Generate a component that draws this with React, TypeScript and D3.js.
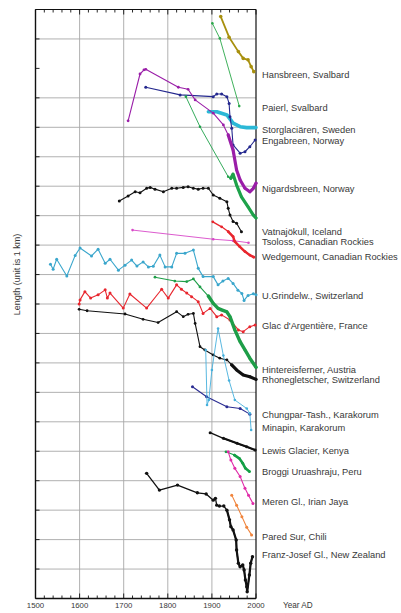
import React from 'react';
import * as d3 from 'd3';

type Pt = [number, number]; // [year AD, length in km units]

// ---- glacier length records (stacked, 1 unit = 1 km) ----
const hansbreen: Pt[] = [[1920, 19.76], [1939, 19.06], [1960, 18.57], [1971, 18.34], [1982, 18.29], [1989, 18.06], [1995, 17.89]];
const paierl: Pt[] = [[1901, 19.53], [1918, 19.02], [1962, 16.72]];
const storglaciaren: Pt[] = [[1892, 16.53], [1911, 16.53], [1934, 16.42], [1948, 16.14], [1964, 16.02], [1979, 15.99], [2000, 15.99]];
const engabreen: Pt[] = [[1750, 17.36], [1828, 17.1], [1903, 17.04], [1911, 17.13], [1922, 17.13], [1934, 17.04], [1939, 16.81], [1941, 16.36], [1945, 15.97], [1948, 15.4], [1964, 15.12], [1975, 15.17], [1986, 15.34], [1998, 15.57]];
const nigardsbreen: Pt[] = [[1710, 16.22], [1737, 17.81], [1746, 17.95], [1750, 17.97], [1824, 17.36], [1846, 17.29], [1862, 16.93], [1903, 16.48], [1926, 16.08], [1937, 15.74], [1948, 15.23], [1956, 14.55], [1964, 14.21], [1975, 13.93], [1986, 13.81], [1994, 13.93], [2000, 14.1]];
const greenNorway: Pt[] = [[1841, 17.04], [1873, 16.02], [1937, 14.32], [1943, 14.27], [1948, 14.41], [1956, 14.04], [1967, 13.64], [1982, 13.3], [1994, 13.02], [2000, 12.92]];
const vatnajokull: Pt[] = [[1690, 13.5], [1710, 13.67], [1726, 13.81], [1737, 13.78], [1752, 13.93], [1760, 13.96], [1771, 13.9], [1790, 13.81], [1809, 13.93], [1820, 13.93], [1835, 13.96], [1846, 13.98], [1858, 13.93], [1869, 13.9], [1880, 13.93], [1892, 13.93], [1903, 13.7], [1918, 13.59], [1934, 13.47], [1937, 13.25], [1941, 13.02], [1948, 12.8], [1956, 12.74], [1967, 12.45]];
const tsoloss: Pt[] = [[1720, 12.51], [1903, 12.2], [1948, 12.15], [1983, 12.08]];
const wedgemount: Pt[] = [[1902, 12.79], [1922, 12.62], [1937, 12.46], [1948, 12.29], [1952, 12.12], [1963, 11.95], [1975, 11.78], [1986, 11.66], [1995, 11.59]];
const grindelwald: Pt[] = [[1534, 11.35], [1540, 11.18], [1548, 11.52], [1571, 10.95], [1590, 11.65], [1601, 11.9], [1627, 11.63], [1642, 11.86], [1658, 11.38], [1669, 11.52], [1688, 11.15], [1703, 11.32], [1718, 11.49], [1730, 11.29], [1744, 11.43], [1756, 11.26], [1767, 11.28], [1782, 11.66], [1794, 11.26], [1809, 11.26], [1820, 11.72], [1839, 11.72], [1858, 11.83], [1869, 11.21], [1880, 10.93], [1903, 10.93], [1914, 10.65], [1925, 10.78], [1937, 10.87], [1948, 10.7], [1959, 10.47], [1968, 10.36], [1973, 10.12], [1982, 10.29], [1994, 10.35], [2000, 10.31]];
const argentiere: Pt[] = [[1599, 10.0], [1601, 10.14], [1612, 10.42], [1625, 10.2], [1642, 10.31], [1658, 10.48], [1663, 10.2], [1669, 10.37], [1699, 9.86], [1714, 10.34], [1752, 9.86], [1786, 10.5], [1801, 10.2], [1820, 10.65], [1831, 10.5], [1843, 10.37], [1854, 10.25], [1869, 10.08], [1880, 9.68], [1896, 9.85], [1911, 9.57], [1922, 9.63], [1941, 9.46], [1960, 9.12], [1971, 9.06], [1986, 9.23], [1998, 9.29]];
const hintereisferner: Pt[] = [[1771, 10.91], [1816, 10.78], [1843, 10.76], [1858, 10.85], [1873, 10.58], [1892, 10.27], [1903, 10.02], [1914, 9.85], [1922, 9.8], [1934, 9.73], [1941, 9.57], [1952, 9.12], [1964, 8.72], [1975, 8.44], [1986, 8.16], [2000, 7.85]];
const rhonegletscher: Pt[] = [[1599, 9.82], [1617, 9.77], [1703, 9.66], [1744, 9.48], [1778, 9.37], [1820, 9.74], [1835, 9.57], [1846, 9.65], [1858, 9.68], [1862, 9.34], [1873, 8.55], [1884, 8.44], [1903, 8.27], [1918, 8.16], [1934, 8.1], [1945, 7.93], [1956, 7.76], [1971, 7.59], [1986, 7.53], [2000, 7.44]];
const chungparTash: Pt[] = [[1856, 7.19], [1888, 6.85], [1934, 6.51], [1964, 6.45], [1986, 6.26]];
const minapin: Pt[] = [[1886, 8.44], [1889, 6.57], [1893, 6.74], [1900, 7.76], [1914, 9.17], [1926, 8.25], [1939, 7.4], [1952, 6.74], [1979, 6.45], [1986, 6.29], [1989, 5.72]];
const lewis: Pt[] = [[1896, 5.63], [1926, 5.44], [1957, 5.27], [1979, 5.15], [1998, 5.04]];
const broggi: Pt[] = [[1932, 4.98], [1951, 4.87], [1962, 4.76], [1970, 4.59], [1976, 4.42], [1985, 4.31]];
const meren: Pt[] = [[1937, 4.98], [1943, 4.7], [1952, 4.42], [1964, 4.14], [1975, 3.74], [1983, 3.51], [1993, 3.23]];
const paredSur: Pt[] = [[1945, 3.51], [1956, 3.17], [1968, 2.78], [1979, 2.42], [1990, 2.16]];
const franzJosef: Pt[] = [[1752, 4.25], [1781, 3.68], [1822, 3.85], [1867, 3.59], [1887, 3.55], [1903, 3.34], [1908, 3.4], [1911, 3.17], [1917, 3.14], [1927, 3.14], [1934, 3.0], [1940, 2.67], [1943, 2.44], [1948, 2.33], [1955, 1.99], [1956, 1.65], [1960, 1.2], [1964, 1.08], [1970, 1.14], [1973, 0.97], [1976, 0.63], [1979, 0.4], [1980, 0.23], [1985, 0.8], [1988, 1.2], [1992, 1.42]];

// ---- axis ticks ----
const centuryTicks = [1500, 1600, 1700, 1800, 1900, 2000];
const minorYears = d3.range(1500, 2001, 20);
const kmTicks = d3.range(0, 21, 1);
const gridKm = [1, 2, 3, 4, 5, 6, 7, 8, 9, 10, 11, 12, 13, 14, 15, 16, 17, 19];
const gridYears = [1600, 1700, 1800, 1900];

interface Series {
  data: Pt[];
  color: string;
  label?: string;
  labelAt?: number;
  thickFrom?: number;
  thin: number;
  thick?: number;
  r: number;
}

const series: Series[] = [
  { data: hansbreen, color: '#a8900e', label: 'Hansbreen, Svalbard', labelAt: 17.78, thin: 1.8, r: 1.8 },
  { data: paierl, color: '#2aa84a', label: 'Paierl, Svalbard', labelAt: 16.68, thin: 0.9, r: 1.3 },
  { data: storglaciaren, color: '#2bb8d6', label: 'Storglaciären, Sweden', labelAt: 15.93, thin: 3.6, r: 0 },
  { data: engabreen, color: '#24288e', label: 'Engabreen, Norway', labelAt: 15.54, thin: 1.1, r: 1.5 },
  { data: nigardsbreen, color: '#9a1ea8', label: 'Nigardsbreen, Norway', labelAt: 13.93, thin: 1.1, thick: 3.2, thickFrom: 1937, r: 1.4 },
  { data: greenNorway, color: '#1ea24a', thin: 0.9, thick: 3.2, thickFrom: 1943, r: 1.3 },
  { data: vatnajokull, color: '#111111', label: 'Vatnajökull, Iceland', labelAt: 12.45, thin: 1.1, r: 1.5 },
  { data: tsoloss, color: '#d848c8', label: 'Tsoloss, Canadian Rockies', labelAt: 12.12, thin: 0.9, r: 1.3 },
  { data: wedgemount, color: '#e8262e', label: 'Wedgemount, Canadian Rockies', labelAt: 11.59, thin: 1.3, thick: 2.4, thickFrom: 1937, r: 1.4 },
  { data: grindelwald, color: '#3aa6cc', label: 'U.Grindelw., Switzerland', labelAt: 10.27, thin: 1.1, r: 1.5 },
  { data: argentiere, color: '#e8262e', label: "Glac d'Argentière, France", labelAt: 9.25, thin: 1.1, r: 1.5 },
  { data: hintereisferner, color: '#1e9e48', label: 'Hintereisferner, Austria', labelAt: 7.76, thin: 1.1, thick: 3.4, thickFrom: 1892, r: 1.4 },
  { data: rhonegletscher, color: '#111111', label: 'Rhonegletscher, Switzerland', labelAt: 7.42, thin: 1.1, thick: 3.2, thickFrom: 1945, r: 1.4 },
  { data: chungparTash, color: '#2a2c92', label: 'Chungpar-Tash., Karakorum', labelAt: 6.23, thin: 1.1, r: 1.5 },
  { data: minapin, color: '#46b0dc', label: 'Minapin, Karakorum', labelAt: 5.79, thin: 0.9, r: 1.3 },
  { data: lewis, color: '#111111', label: 'Lewis Glacier,  Kenya', labelAt: 5.02, thin: 1.4, thick: 2.2, thickFrom: 1926, r: 1.5 },
  { data: broggi, color: '#14a046', label: 'Broggi Uruashraju, Peru', labelAt: 4.31, thin: 1.1, thick: 2.6, thickFrom: 1951, r: 1.4 },
  { data: meren, color: '#e02ca8', label: 'Meren Gl., Irian Jaya', labelAt: 3.29, thin: 1.1, r: 1.5 },
  { data: paredSur, color: '#f0843c', label: 'Pared Sur, Chili', labelAt: 2.1, thin: 1.1, r: 1.5 },
  { data: franzJosef, color: '#111111', label: 'Franz-Josef Gl., New Zealand', labelAt: 1.48, thin: 1.3, thick: 2.2, thickFrom: 1934, r: 1.7 },
];

const W = 401;
const H = 613;
const x = d3.scaleLinear().domain([1500, 2000]).range([35.5, 256]);
const y = d3.scaleLinear().domain([0, 20]).range([598.5, 9.5]);
const line = d3.line<Pt>().x((d) => x(d[0])).y((d) => y(d[1]));

const FONT = "'Liberation Sans', Arial, sans-serif";
const TEXT = '#383838';

export default function App() {
  const left = x(1500);
  const right = x(2000);
  const top = y(20);
  const bottom = y(0);
  return (
    <svg width={W} height={H} style={{ position: 'absolute', left: 0, top: 0, background: '#fff' }} fontFamily={FONT}>
      {/* grid */}
      <g stroke="#a8a8a8" strokeWidth={0.9}>
        {gridKm.map((k) => (
          <line key={'h' + k} x1={left} x2={right} y1={y(k)} y2={y(k)} />
        ))}
        {gridYears.map((yr) => (
          <line key={'v' + yr} x1={x(yr)} x2={x(yr)} y1={top} y2={bottom} />
        ))}
      </g>

      {/* frame and ticks */}
      <g stroke="#111" fill="none">
        <line x1={left} x2={left} y1={top} y2={bottom} strokeWidth={1.4} />
        <line x1={left} x2={right} y1={bottom} y2={bottom} strokeWidth={1.4} />
        <line x1={left} x2={right} y1={top} y2={top} strokeWidth={1.2} />
        <line x1={right} x2={right} y1={top} y2={bottom} strokeWidth={1.2} />
        {minorYears.map((yr) => {
          const major = yr % 100 === 0;
          const len = major ? 5 : 3;
          return (
            <g key={'t' + yr} strokeWidth={0.9}>
              <line x1={x(yr)} x2={x(yr)} y1={bottom} y2={bottom - len} />
              <line x1={x(yr)} x2={x(yr)} y1={top} y2={top + len} />
            </g>
          );
        })}
        {kmTicks.map((k) => (
          <line key={'k' + k} x1={left} x2={left + 4} y1={y(k)} y2={y(k)} strokeWidth={0.9} />
        ))}
      </g>

      {/* glacier records */}
      {series.map((s, i) => {
        const late = s.thickFrom !== undefined ? s.data.filter((d) => d[0] >= s.thickFrom!) : [];
        return (
          <g key={'s' + i}>
            <path d={line(s.data) || ''} fill="none" stroke={s.color} strokeWidth={s.thin} strokeLinejoin="round" strokeLinecap="round" />
            {late.length > 1 && (
              <path d={line(late) || ''} fill="none" stroke={s.color} strokeWidth={s.thick} strokeLinejoin="round" strokeLinecap="round" />
            )}
            {s.r > 0 &&
              s.data.map((d, j) => <circle key={j} cx={x(d[0])} cy={y(d[1])} r={s.r} fill={s.color} />)}
          </g>
        );
      })}

      {/* glacier names */}
      <g fontSize={9.3} fill={TEXT}>
        {series
          .filter((s) => s.label)
          .map((s, i) => (
            <text key={'l' + i} x={262} y={y(s.labelAt!)} dy="0.35em">
              {s.label}
            </text>
          ))}
      </g>

      {/* axis labels */}
      <g fontSize={7.8} fill={TEXT} textAnchor="middle">
        {centuryTicks.map((yr) => (
          <text key={'x' + yr} x={x(yr)} y={608}>
            {yr}
          </text>
        ))}
      </g>
      <text x={283} y={608} fontSize={8.2} fill={TEXT}>
        Year AD
      </text>
      <text
        transform={`translate(20, ${y(11)}) rotate(-90)`}
        textAnchor="middle"
        fontSize={9}
        fill={TEXT}
      >
        Length (unit is 1 km)
      </text>
    </svg>
  );
}
